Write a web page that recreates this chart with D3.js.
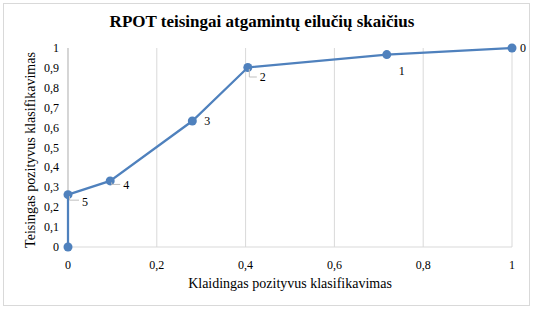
<!DOCTYPE html>
<html>
<head>
<meta charset="utf-8">
<style>
  body { margin: 0; background: #fff; }
  text { font-family: "Liberation Serif", "Times New Roman", serif; fill: #000; }
</style>
</head>
<body>
<script src="https://d3js.org/d3.v7.min.js"></script>
<script>
    var width = 533, height = 310;

    // ROC points (false positive rate, true positive rate) with threshold labels
    var fpr = [0, 0, 0.095, 0.28, 0.405, 0.718, 1];
    var tpr = [0, 0.263, 0.332, 0.633, 0.902, 0.967, 1];
    var labels = ["", "5", "4", "3", "2", "1", "0"];
    var xTicks = [0, 0.2, 0.4, 0.6, 0.8, 1];
    var yTicks = [0, 0.1, 0.2, 0.3, 0.4, 0.5, 0.6, 0.7, 0.8, 0.9, 1];

    // label placement: dx, dy from point, leader line y offset (or null)
    var labelPos = [null, [14, 11, 4], [13, 8, 2], [12, 4, null], [12, 13, 8], [12, 20, null], [8, 4, null]];

    var data = fpr.map(function (d, i) {
        return { x: d, y: tpr[i], label: labels[i], pos: labelPos[i] };
    });

    var svg = d3.select('body').append('svg').attr('width', width).attr('height', height);

    svg.append('rect')
        .attr('x', 3.5).attr('y', 3.5)
        .attr('width', 526).attr('height', 302)
        .attr('fill', '#fff').attr('stroke', '#d9d9d9');

    var x = d3.scaleLinear().domain([0, 1]).range([68, 512]);
    var y = d3.scaleLinear().domain([0, 1]).range([247, 48]);

    var fmt = function (d) { return String(d).replace('.', ','); };

    // vertical gridlines
    svg.append('g').selectAll('line')
        .data(xTicks)
        .join('line')
        .attr('x1', function (d) { return x(d); })
        .attr('x2', function (d) { return x(d); })
        .attr('y1', y(1)).attr('y2', y(0))
        .attr('stroke', '#d9d9d9');

    // axis lines
    svg.append('line').attr('x1', x(0)).attr('x2', x(1)).attr('y1', y(0)).attr('y2', y(0)).attr('stroke', '#d9d9d9');
    svg.append('line').attr('x1', x(0)).attr('x2', x(0)).attr('y1', y(0)).attr('y2', y(1)).attr('stroke', '#bfbfbf');

    // tick labels
    svg.append('g').selectAll('text')
        .data(xTicks)
        .join('text')
        .attr('x', function (d) { return x(d); })
        .attr('y', 269)
        .attr('text-anchor', 'middle')
        .attr('font-size', 12)
        .text(fmt);

    svg.append('g').selectAll('text')
        .data(yTicks)
        .join('text')
        .attr('x', 59)
        .attr('y', function (d) { return y(d) + 4; })
        .attr('text-anchor', 'end')
        .attr('font-size', 12)
        .text(fmt);

    // line
    var line = d3.line().x(function (d) { return x(d.x); }).y(function (d) { return y(d.y); });
    svg.append('path')
        .datum(data)
        .attr('d', line)
        .attr('fill', 'none')
        .attr('stroke', '#4f81bd')
        .attr('stroke-width', 2.25);

    svg.append('g').selectAll('circle')
        .data(data)
        .join('circle')
        .attr('cx', function (d) { return x(d.x); })
        .attr('cy', function (d) { return y(d.y); })
        .attr('r', 4.5)
        .attr('fill', '#4f81bd');

    // data labels with small leader lines
    var lab = data.filter(function (d) { return d.pos; });
    svg.append('g').selectAll('path')
        .data(lab.filter(function (d) { return d.pos[2] !== null; }))
        .join('path')
        .attr('d', function (d) {
            var px = x(d.x) + 1.5, py = y(d.y) + 1.5;
            return 'M' + px + ',' + py + 'V' + (py + d.pos[2]) + 'H' + (x(d.x) + d.pos[0] - 3);
        })
        .attr('fill', 'none')
        .attr('stroke', '#bfbfbf');

    svg.append('g').selectAll('text')
        .data(lab)
        .join('text')
        .attr('x', function (d) { return x(d.x) + d.pos[0]; })
        .attr('y', function (d) { return y(d.y) + d.pos[1]; })
        .attr('font-size', 12)
        .text(function (d) { return d.label; });

    // titles
    svg.append('text')
        .attr('x', 262).attr('y', 27)
        .attr('text-anchor', 'middle')
        .attr('font-size', 17)
        .attr('font-weight', 'bold')
        .text('RPOT teisingai atgamintų eilučių skaičius');

    svg.append('text')
        .attr('x', 290).attr('y', 288)
        .attr('text-anchor', 'middle')
        .attr('font-size', 14)
        .text('Klaidingas pozityvus klasifikavimas');

    svg.append('text')
        .attr('transform', 'translate(35,150) rotate(-90)')
        .attr('text-anchor', 'middle')
        .attr('font-size', 14)
        .text('Teisingas pozityvus klasifikavimas');
</script>
</body>
</html>
